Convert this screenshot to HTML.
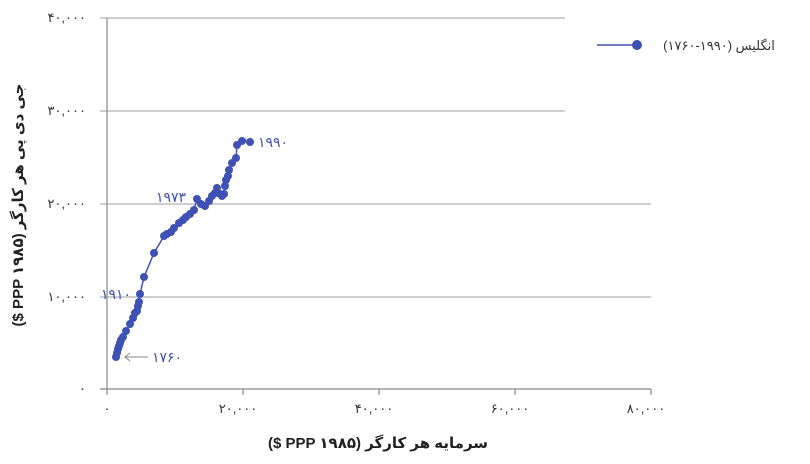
<!DOCTYPE html>
<html><head><meta charset="utf-8"><style>
body{margin:0;background:#fff;}
svg{display:block;font-family:"Liberation Sans","DejaVu Sans","Noto Sans CJK SC",sans-serif;}
</style></head><body>
<svg width="810" height="464" viewBox="0 0 810 464" xmlns="http://www.w3.org/2000/svg">
<g stroke="#b0b0b0" stroke-width="1.2" fill="none">
<line x1="100" y1="18" x2="565" y2="18"/>
<line x1="100" y1="111" x2="565" y2="111"/>
<line x1="100" y1="204" x2="651" y2="204"/>
<line x1="100" y1="297" x2="651" y2="297"/>
<line x1="100" y1="389" x2="651" y2="389" stroke="#888"/>
<line x1="107" y1="18" x2="107" y2="395" stroke="#888"/>
<line x1="243" y1="389" x2="243" y2="395" stroke="#888"/>
<line x1="379" y1="389" x2="379" y2="395" stroke="#888"/>
<line x1="515" y1="389" x2="515" y2="395" stroke="#888"/>
<line x1="651" y1="389" x2="651" y2="395" stroke="#888"/>
</g>
<g font-size="13" fill="#333" text-anchor="end">
<text x="86" y="22">۴۰,۰۰۰</text>
<text x="86" y="115">۳۰,۰۰۰</text>
<text x="86" y="208">۲۰,۰۰۰</text>
<text x="86" y="301">۱۰,۰۰۰</text>
<text x="86" y="393">۰</text>
</g>
<g font-size="13" fill="#333" text-anchor="middle">
<text x="107" y="413">۰</text>
<text x="238" y="413">۲۰,۰۰۰</text>
<text x="374" y="413">۴۰,۰۰۰</text>
<text x="510" y="413">۶۰,۰۰۰</text>
<text x="646" y="413">۸۰,۰۰۰</text>
</g>
<text x="378" y="448" font-size="15" font-weight="bold" fill="#222" text-anchor="middle" direction="rtl">سرمایه هر کارگر (PPP ۱۹۸۵ $)</text>
<text transform="translate(23,205) rotate(-90)" font-size="15" font-weight="bold" fill="#222" text-anchor="middle" direction="rtl">جی دی پی هر کارگر (PPP ۱۹۸۵ $)</text>
<polyline fill="none" stroke="#3f51b5" stroke-width="1.5" points="116,357 117,353 118,349 119,346 120,343 121,340 123,337 126,331 130,324 133,318 135,313 137,311 138,306 139,302 140,294 144,277 154,253 164,236 167,234 171,232 174,228 179,223 183,220 186,217 190,214 194,210 197,199 201,204 205,206 209,201 212,196 215,193 217,188 220,194 222,196 224,194 225,186 226,180 228,176 229,170 232,163 236,158 237,145 242,141 250,142"/>
<g fill="#3f51b5">
<circle cx="116" cy="357" r="4"/><circle cx="117" cy="353" r="4"/><circle cx="118" cy="349" r="4"/><circle cx="119" cy="346" r="4"/><circle cx="120" cy="343" r="4"/><circle cx="121" cy="340" r="4"/><circle cx="123" cy="337" r="4"/><circle cx="126" cy="331" r="4"/><circle cx="130" cy="324" r="4"/><circle cx="133" cy="318" r="4"/><circle cx="135" cy="313" r="4"/><circle cx="137" cy="311" r="4"/><circle cx="138" cy="306" r="4"/><circle cx="139" cy="302" r="4"/><circle cx="140" cy="294" r="4"/><circle cx="144" cy="277" r="4"/><circle cx="154" cy="253" r="4"/><circle cx="164" cy="236" r="4"/><circle cx="167" cy="234" r="4"/><circle cx="171" cy="232" r="4"/><circle cx="174" cy="228" r="4"/><circle cx="179" cy="223" r="4"/><circle cx="183" cy="220" r="4"/><circle cx="186" cy="217" r="4"/><circle cx="190" cy="214" r="4"/><circle cx="194" cy="210" r="4"/><circle cx="197" cy="199" r="4"/><circle cx="201" cy="204" r="4"/><circle cx="205" cy="206" r="4"/><circle cx="209" cy="201" r="4"/><circle cx="212" cy="196" r="4"/><circle cx="215" cy="193" r="4"/><circle cx="217" cy="188" r="4"/><circle cx="220" cy="194" r="4"/><circle cx="222" cy="196" r="4"/><circle cx="224" cy="194" r="4"/><circle cx="225" cy="186" r="4"/><circle cx="226" cy="180" r="4"/><circle cx="228" cy="176" r="4"/><circle cx="229" cy="170" r="4"/><circle cx="232" cy="163" r="4"/><circle cx="236" cy="158" r="4"/><circle cx="237" cy="145" r="4"/><circle cx="242" cy="141" r="4"/><circle cx="250" cy="142" r="4"/>
</g>
<g font-size="14" fill="#3f51b5">
<text x="258" y="147">۱۹۹۰</text>
<text x="156" y="202">۱۹۷۳</text>
<text x="101" y="299">۱۹۱۰</text>
<text x="152" y="362">۱۷۶۰</text>
</g>
<line x1="125" y1="357" x2="148" y2="357" stroke="#888" stroke-width="1"/>
<polyline points="130,353 125,357 130,361" fill="none" stroke="#888" stroke-width="1"/>
<line x1="597" y1="45" x2="637" y2="45" stroke="#3f51b5" stroke-width="1.5"/>
<circle cx="637" cy="45" r="5" fill="#3f51b5"/>
<text x="719" y="50" font-size="13" fill="#333" text-anchor="middle" direction="rtl">انگلیس (۱۹۹۰-۱۷۶۰)</text>
</svg>
</body></html>
